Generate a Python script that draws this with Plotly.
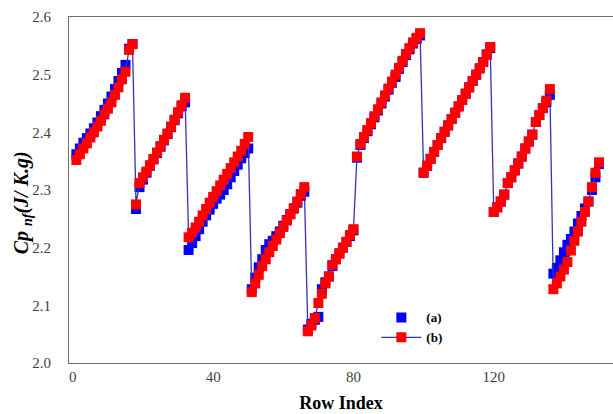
import plotly.graph_objects as go

# Specific heat of the nanofluid per row, grouped by sawtooth run
cp_b_runs = [
    [2.352, 2.362, 2.372, 2.381, 2.391, 2.400, 2.410, 2.420, 2.431, 2.441, 2.452, 2.465, 2.478, 2.492, 2.505, 2.543, 2.553],
    [2.275, 2.312, 2.322, 2.332, 2.343, 2.354, 2.365, 2.376, 2.387, 2.398, 2.410, 2.422, 2.435, 2.447, 2.460],
    [2.218, 2.226, 2.235, 2.245, 2.256, 2.267, 2.278, 2.288, 2.298, 2.308, 2.318, 2.328, 2.338, 2.348, 2.358, 2.368, 2.380, 2.392],
    [2.123, 2.138, 2.153, 2.168, 2.180, 2.192, 2.203, 2.214, 2.225, 2.236, 2.247, 2.258, 2.268, 2.280, 2.293, 2.305],
    [2.055, 2.065, 2.078, 2.104, 2.120, 2.138, 2.150, 2.170, 2.180, 2.190, 2.200, 2.210, 2.222, 2.232],
    [2.358, 2.380, 2.392, 2.404, 2.416, 2.428, 2.440, 2.452, 2.464, 2.476, 2.488, 2.500, 2.512, 2.524, 2.536, 2.546, 2.556, 2.564, 2.572],
    [2.330, 2.342, 2.354, 2.366, 2.378, 2.390, 2.401, 2.412, 2.423, 2.434, 2.445, 2.456, 2.467, 2.478, 2.489, 2.500, 2.511, 2.522, 2.535, 2.548],
    [2.262, 2.270, 2.280, 2.292, 2.312, 2.322, 2.334, 2.346, 2.358, 2.372, 2.384, 2.396, 2.418, 2.430, 2.442, 2.455, 2.475],
    [2.128, 2.138, 2.150, 2.162, 2.175, 2.195, 2.212, 2.228, 2.245, 2.262, 2.280, 2.305, 2.330, 2.348],
]

cp_a_runs = [
    [2.362, 2.372, 2.382, 2.390, 2.398, 2.407, 2.417, 2.428, 2.439, 2.450, 2.462, 2.475, 2.489, 2.503, 2.517, 2.545, 2.553],
    [2.267, 2.305, 2.318, 2.330, 2.342, 2.353, 2.364, 2.375, 2.386, 2.397, 2.409, 2.421, 2.433, 2.445, 2.452],
    [2.196, 2.208, 2.220, 2.232, 2.245, 2.256, 2.266, 2.276, 2.285, 2.292, 2.300, 2.310, 2.322, 2.333, 2.344, 2.355, 2.364, 2.372],
    [2.128, 2.148, 2.166, 2.180, 2.196, 2.206, 2.212, 2.220, 2.228, 2.238, 2.248, 2.258, 2.268, 2.278, 2.290, 2.297],
    [2.058, 2.068, 2.075, 2.080, 2.128, 2.140, 2.150, 2.168, 2.180, 2.190, 2.200, 2.210, 2.220, 2.230],
    [2.356, 2.378, 2.390, 2.402, 2.414, 2.426, 2.438, 2.450, 2.462, 2.474, 2.486, 2.496, 2.510, 2.522, 2.534, 2.544, 2.554, 2.562, 2.568],
    [2.330, 2.342, 2.354, 2.366, 2.378, 2.390, 2.401, 2.412, 2.423, 2.434, 2.445, 2.456, 2.467, 2.478, 2.489, 2.500, 2.511, 2.522, 2.535, 2.546],
    [2.262, 2.270, 2.280, 2.292, 2.312, 2.322, 2.334, 2.346, 2.358, 2.372, 2.384, 2.396, 2.418, 2.430, 2.442, 2.452, 2.465],
    [2.155, 2.165, 2.178, 2.192, 2.205, 2.215, 2.228, 2.242, 2.255, 2.268, 2.280, 2.300, 2.322, 2.345],
]

cp_a = [v for run in cp_a_runs for v in run]
cp_b = [v for run in cp_b_runs for v in run]
row_index = list(range(1, len(cp_b) + 1))

y_ticks = [2.0, 2.1, 2.2, 2.3, 2.4, 2.5, 2.6]
x_ticks = [0, 40, 80, 120]

serif = "'Times New Roman', 'Liberation Serif', serif"
tick_font = dict(family=serif, size=15, color="#404040")

fig = go.Figure()
fig.add_trace(go.Scatter(
    x=row_index, y=cp_a, name="<b>(a)</b>", mode="markers",
    marker=dict(symbol="square", size=10, color="#0000ff"),
))
fig.add_trace(go.Scatter(
    x=row_index, y=cp_b, name="<b>(b)</b>", mode="lines+markers",
    line=dict(color="#3434b4", width=1.3),
    marker=dict(symbol="square", size=10, color="#ff0000"),
))

# Vertical axis label, placed as a rotated annotation left of the tick labels
fig.add_annotation(
    text="<b><i>Cp <sub>nf</sub>(J/ K.g)</i></b>",
    xref="paper", yref="paper", x=-0.086, y=0.462,
    xanchor="center", yanchor="middle", textangle=-90, showarrow=False,
    font=dict(family=serif, size=20, color="#000000"),
)

fig.update_layout(
    width=613, height=414,
    margin=dict(l=69, r=0, t=17, b=51),
    paper_bgcolor="white", plot_bgcolor="white",
    font=dict(family=serif, size=15, color="#404040"),
    showlegend=True,
    legend=dict(
        x=0.565, y=0.175, xanchor="left", yanchor="top",
        bgcolor="rgba(0,0,0,0)", borderwidth=0,
        font=dict(family=serif, size=13, color="#000000"),
        itemwidth=40, tracegroupgap=0,
    ),
    xaxis=dict(
        range=[-1.1, 154.0], tickvals=x_ticks, tickfont=tick_font,
        showgrid=False, zeroline=False,
        showline=True, linecolor="#6e6e6e", linewidth=1.2, mirror=True,
        ticks="", ticklabelstandoff=0,
        title=dict(text="<b>Row Index</b>", font=dict(family=serif, size=18, color="#000000"), standoff=12),
    ),
    yaxis=dict(
        range=[2.0, 2.6], tickvals=y_ticks, tickformat=".1f", tickfont=tick_font,
        showgrid=False, zeroline=False,
        showline=True, linecolor="#6e6e6e", linewidth=1.2, mirror=False,
        ticks="", ticklabelstandoff=14,
    ),
)

fig.write_html("out.html")
